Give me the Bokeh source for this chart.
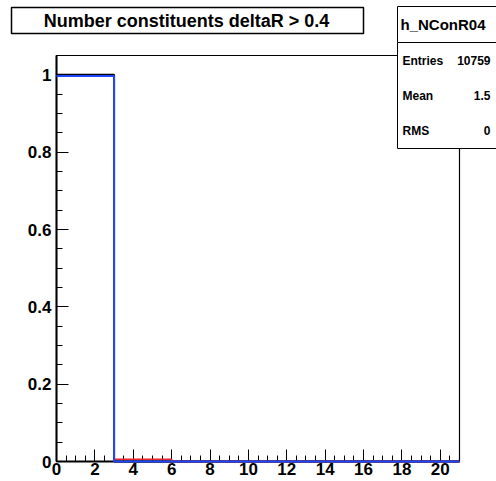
from bokeh.plotting import figure
from bokeh.models import (Range1d, SingleIntervalTicker, CustomJSTickFormatter,
                          BoxAnnotation, Label)
from bokeh.embed import file_html
from bokeh.resources import INLINE

# ---- data ----
bin_edges = [0, 3, 6, 9, 12, 15, 18, 21]
black_vals = [1.0, 0, 0, 0, 0, 0, 0]
blue_vals = [0.997, 0, 0, 0, 0, 0, 0]
red_vals = [0, 0.006, 0, 0, 0, 0, 0]
title_text = "Number constituents deltaR > 0.4"
hist_name = "h_NConR04"
stat_names = ["Entries", "Mean", "RMS"]
stat_values = ["10759", "1.5", "0"]

X_MIN, X_MAX = 0, 21
Y_MIN, Y_MAX = 0, 1.05

# pad geometry (canvas pixels) of the ROOT frame
W, H = 496, 481
FL, FR, FT, FB = 56, 459, 55, 461
sx = (FR - FL) / (X_MAX - X_MIN)
sy = (FB - FT) / (Y_MAX - Y_MIN)

FONT = "Liberation Sans"

p = figure(width=W, height=H, output_backend="svg", toolbar_location=None,
           x_range=Range1d(X_MIN - FL / sx, X_MAX + (W - FR) / sx),
           y_range=Range1d(Y_MIN - (H - FB) / sy, Y_MAX + FT / sy),
           min_border_left=0, min_border_right=0, min_border_top=0,
           min_border_bottom=0)
p.background_fill_color = "white"
p.border_fill_color = "white"
p.outline_line_color = None
p.xgrid.visible = False
p.ygrid.visible = False

p.xaxis.ticker = SingleIntervalTicker(interval=2, num_minor_ticks=4)
p.yaxis.ticker = SingleIntervalTicker(interval=0.2, num_minor_ticks=4)
p.xaxis.fixed_location = Y_MIN
p.yaxis.fixed_location = X_MIN
p.xaxis.bounds = (X_MIN, X_MAX)
p.yaxis.bounds = (Y_MIN, Y_MAX)
fmt = CustomJSTickFormatter(code="return (Math.round(tick*10)/10).toString();")
p.xaxis.formatter = fmt
p.yaxis.formatter = fmt
for ax in (p.xaxis[0], p.yaxis[0]):
    ax.axis_line_color = "black"
    ax.axis_line_width = 2
    ax.major_tick_line_color = "black"
    ax.minor_tick_line_color = "black"
    ax.major_tick_out = 0
    ax.minor_tick_out = 0
    ax.major_tick_in = 12
    ax.minor_tick_in = 6
    ax.major_label_text_font = FONT
    ax.major_label_text_font_style = "bold"
    ax.major_label_text_font_size = "17px"
    ax.major_label_text_color = "black"
p.xaxis.major_label_standoff = 1
p.yaxis.major_label_standoff = 5

# frame box (top and right edges of the ROOT frame)
p.add_layout(BoxAnnotation(left=X_MIN, right=X_MAX, bottom=Y_MIN, top=Y_MAX,
                           fill_alpha=0, line_color="black", line_alpha=1,
                           line_width=1.2, level="underlay"))

def step_line(vals, color, width, level="glyph"):
    # start at the first filled bin (empty leading bins lie on the axis)
    i0 = next(i for i, v in enumerate(vals) if v != 0)
    xs = bin_edges[i0:]
    ys = list(vals[i0:]) + [vals[-1]]
    r = p.step(x=xs, y=ys, mode="after", line_color=color, line_width=width)
    r.level = level
    return r

step_line(black_vals, "black", 2)
step_line(red_vals, "#e8262a", 1.6, level="overlay")
step_line(blue_vals, "#2046ff", 2, level="overlay")

# ---- title box ----
p.add_layout(BoxAnnotation(left=11, right=363, top=7, bottom=33,
                           left_units="canvas", right_units="canvas",
                           top_units="canvas", bottom_units="canvas",
                           fill_color="white", fill_alpha=1,
                           line_color="black", line_alpha=1, line_width=1.5,
                           level="overlay"))
p.add_layout(Label(x=186, y=20, x_units="canvas", y_units="canvas", text=title_text,
                   text_font=FONT, text_font_style="bold", text_font_size="18px",
                   text_color="black",
                   text_align="center", text_baseline="middle", level="overlay"))

# ---- stats box ----
for top, bottom in ((6, 42), (42, 148)):
    p.add_layout(BoxAnnotation(left=397, right=500, top=top, bottom=bottom,
                               left_units="canvas", right_units="canvas",
                               top_units="canvas", bottom_units="canvas",
                               fill_color="white", fill_alpha=1,
                               line_color="black", line_alpha=1, line_width=1,
                               level="overlay"))
p.add_layout(Label(x=400, y=24, x_units="canvas", y_units="canvas", text=hist_name,
                   text_font=FONT, text_font_style="bold", text_font_size="15px",
                   text_color="black",
                   text_align="left", text_baseline="middle", level="overlay"))
row_y = [60, 95, 130]
for name, val, yy in zip(stat_names, stat_values, row_y):
    p.add_layout(Label(x=402, y=yy, x_units="canvas", y_units="canvas", text=name,
                       text_font=FONT, text_font_style="bold", text_font_size="12px",
                       text_color="black",
                       text_align="left", text_baseline="middle", level="overlay"))
    p.add_layout(Label(x=490, y=yy, x_units="canvas", y_units="canvas", text=val,
                       text_font=FONT, text_font_style="bold", text_font_size="12px",
                       text_color="black",
                       text_align="right", text_baseline="middle", level="overlay"))

open("out.html", "w").write(file_html(p, INLINE))
